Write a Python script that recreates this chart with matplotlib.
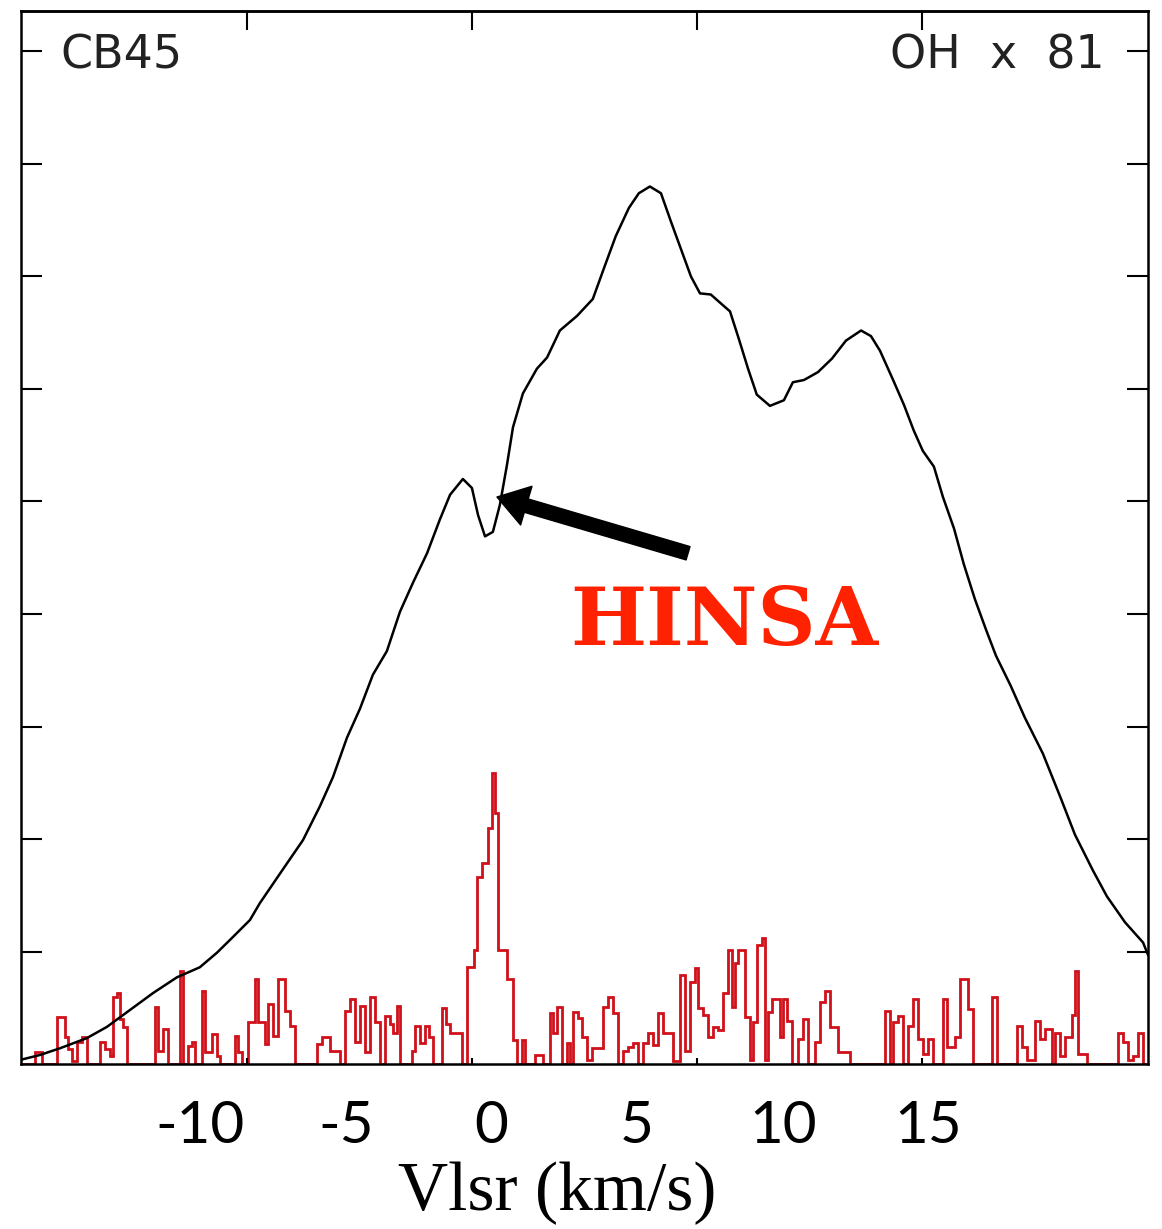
import numpy as np
import matplotlib
matplotlib.use('Agg')
import matplotlib.pyplot as plt

# HI emission profile (black), velocity in km/s, brightness in tick units
hi_v = [-16.12, -15.50, -14.81, -13.89, -13.20, -12.41, -11.62, -10.80, -10.01, -9.42,
        -8.87, -8.29, -7.95, -7.16, -6.47, -5.89, -5.44, -4.96, -4.51, -4.07,
        -3.59, -3.14, -2.69, -2.21, -1.77, -1.42, -0.98, -0.67, -0.46, -0.22,
        0.05, 0.29, 0.53, 0.74, 1.08, 1.56, 1.91, 2.35, 2.94, 3.48,
        3.90, 4.27, 4.72, 5.06, 5.44, 5.82, 6.16, 6.54, 6.85, 7.16,
        7.53, 7.88, 8.19, 8.50, 8.81, 9.11, 9.56, 10.04, 10.35, 10.73,
        11.21, 11.69, 12.17, 12.69, 13.03, 13.34, 13.79, 14.16, 14.50, 14.81,
        15.19, 15.50, 15.88, 16.22, 16.60, 16.98, 17.32, 17.83, 18.31, 18.93,
        19.55, 20.03, 20.65, 21.13, 21.75, 22.37, 22.54]
hi_t = [0.04, 0.08, 0.14, 0.23, 0.33, 0.48, 0.63, 0.77, 0.86, 0.99,
        1.13, 1.28, 1.43, 1.73, 1.99, 2.29, 2.55, 2.90, 3.16, 3.46,
        3.67, 4.02, 4.28, 4.54, 4.84, 5.06, 5.20, 5.12, 4.88, 4.69,
        4.73, 4.97, 5.32, 5.66, 5.96, 6.18, 6.28, 6.52, 6.65, 6.80,
        7.10, 7.36, 7.61, 7.74, 7.80, 7.74, 7.49, 7.22, 7.00, 6.85,
        6.84, 6.76, 6.69, 6.44, 6.18, 5.95, 5.85, 5.90, 6.06, 6.08,
        6.15, 6.27, 6.43, 6.52, 6.47, 6.34, 6.08, 5.86, 5.63, 5.45,
        5.31, 5.04, 4.76, 4.44, 4.13, 3.86, 3.63, 3.36, 3.08, 2.76,
        2.36, 2.04, 1.72, 1.49, 1.26, 1.08, 0.97]

# OH spectrum (red, scaled x 81): channel edges and values
oh_edges = [-16.15, -15.67, -15.43, -14.92, -14.64, -14.54, -14.40, -14.23, -14.06, -13.89,
            -13.44, -13.27, -13.10, -12.99, -12.86, -12.75, -12.65, -12.51, -11.55, -11.45,
            -11.28, -11.11, -10.69, -10.59, -10.42, -10.28, -10.18, -9.94, -9.84, -9.59,
            -9.42, -9.32, -8.81, -8.70, -8.57, -8.36, -8.12, -8.02, -7.78, -7.67,
            -7.50, -7.33, -7.09, -6.92, -6.75, -5.99, -5.82, -5.54, -5.20, -5.03,
            -4.86, -4.69, -4.51, -4.34, -4.17, -4.00, -3.83, -3.66, -3.48, -3.38,
            -3.24, -3.14, -2.73, -2.63, -2.45, -2.28, -2.15, -2.01, -1.70, -1.56,
            -1.42, -1.01, -0.84, -0.60, -0.50, -0.33, -0.12, 0.02, 0.12, 0.22,
            0.53, 0.74, 0.88, 1.05, 1.15, 1.49, 1.77, 2.01, 2.11, 2.25,
            2.42, 2.59, 2.69, 2.80, 2.97, 3.11, 3.28, 3.45, 3.83, 4.00,
            4.17, 4.34, 4.51, 4.69, 4.86, 5.03, 5.20, 5.37, 5.54, 5.72,
            5.89, 6.23, 6.47, 6.64, 6.81, 6.99, 7.09, 7.26, 7.43, 7.60,
            7.78, 7.95, 8.12, 8.26, 8.36, 8.46, 8.70, 8.87, 8.98, 9.11,
            9.29, 9.39, 9.49, 9.63, 9.90, 10.01, 10.14, 10.32, 10.52, 10.69,
            10.86, 11.11, 11.28, 11.45, 11.62, 11.90, 12.31, 13.51, 13.68, 13.78,
            13.95, 14.13, 14.30, 14.47, 14.64, 14.81, 14.98, 15.16, 15.50, 15.64,
            15.91, 16.08, 16.36, 16.53, 17.18, 17.35, 18.04, 18.21, 18.38, 18.66,
            18.83, 19.00, 19.24, 19.34, 19.52, 19.69, 19.93, 20.03, 20.13, 20.44,
            21.51, 21.68, 21.85, 22.02, 22.19, 22.37, 22.54]
oh_t = [0, 0.11, 0, 0.42, 0.24, 0.13, 0.03, 0.20, 0.24, 0,
        0.20, 0.13, 0.07, 0.60, 0.63, 0.40, 0.33, 0, 0.51, 0.12,
        0.31, 0, 0.83, 0, 0.16, 0.20, 0, 0.65, 0.11, 0.27,
        0.07, 0, 0.25, 0.11, 0, 0.37, 0.76, 0.37, 0.18, 0.53,
        0.25, 0.76, 0.47, 0.34, 0, 0.18, 0.24, 0.12, 0, 0.47,
        0.58, 0.20, 0.52, 0.11, 0.60, 0.37, 0, 0.43, 0.36, 0.28,
        0.52, 0, 0.12, 0.34, 0.19, 0.34, 0.24, 0, 0.50, 0.36,
        0.28, 0, 0.86, 1.01, 1.66, 1.79, 2.10, 2.59, 2.23, 1.01,
        0.76, 0.21, 0, 0.21, 0, 0.08, 0, 0.45, 0.28, 0.51,
        0, 0.19, 0, 0.46, 0.41, 0.24, 0.04, 0.14, 0.51, 0.60,
        0.45, 0, 0.12, 0.15, 0.19, 0, 0.19, 0.28, 0.17, 0.45,
        0.28, 0.03, 0.79, 0.12, 0.73, 0.85, 0.50, 0.44, 0.24, 0.33,
        0.30, 0.63, 1.01, 0.51, 0.90, 1.01, 0.42, 0.04, 0.37, 1.06,
        1.12, 0.04, 0.46, 0.58, 0.24, 0.58, 0.38, 0, 0.22, 0.40,
        0, 0.20, 0.55, 0.65, 0.33, 0.11, 0, 0.47, 0, 0.37,
        0.43, 0, 0.34, 0.58, 0.22, 0.09, 0.22, 0, 0.58, 0.15,
        0.24, 0.76, 0.49, 0, 0.60, 0, 0.34, 0.15, 0.04, 0.38,
        0.22, 0.31, 0, 0.28, 0.07, 0.24, 0.44, 0.83, 0.09, 0,
        0.28, 0.20, 0.04, 0.07, 0.28, 0]

vel_ticks = [-10, -5, 0, 5, 10, 15]
frame_ticks = [-8.39, -0.67, 7.05, 14.78]

W, H = 1162, 1229
fig = plt.figure(figsize=(W / 100, H / 100), dpi=100)
ax = fig.add_axes([21 / W, 1 - 1064 / H, 1127 / W, 1053 / H])

ax.stairs(oh_t, oh_edges, baseline=None, color='#d0101a', lw=2.0)
ax.plot(hi_v, hi_t, color='black', lw=1.8)

ax.set_xlim(-16.15, 22.54)
ax.set_ylim(0, 9.36)

for s in ax.spines.values():
    s.set_linewidth(1.8)

ax.set_yticks(range(1, 10))
ax.tick_params(axis='y', which='major', direction='in', length=15, width=1.5,
               left=True, right=True, labelleft=False)
ax.set_xticks(vel_ticks)
ax.set_xticklabels([str(v) for v in vel_ticks], family='Lato', fontsize=42)
ax.tick_params(axis='x', which='major', length=0, pad=26)
ax.set_xticks(frame_ticks, minor=True)
ax.tick_params(axis='x', which='minor', direction='in', length=4, width=1.5)

top = ax.secondary_xaxis('top')
top.set_xticks(frame_ticks)
top.tick_params(direction='in', length=14, width=1.5, labeltop=False)
top.spines['top'].set_linewidth(1.8)

ax.text(39 / 1127, 1 - 45 / 1053, 'CB45', transform=ax.transAxes,
        fontsize=33, color='#222222', va='center', ha='left')
ax.text(1 - 43 / 1127, 1 - 45 / 1053, 'OH  x  81', transform=ax.transAxes,
        fontsize=33, color='#222222', va='center', ha='right')

ax.annotate('', xy=(0.19, 5.04), xytext=(6.75, 4.54),
            arrowprops=dict(arrowstyle='simple,head_length=1.1,head_width=1.45,tail_width=0.5',
                            color='black', mutation_scale=20, shrinkA=0, shrinkB=0))
ax.text(8.0, 3.72, 'HINSA', family='DejaVu Serif', fontweight='bold',
        fontsize=58, color='#ff2200', ha='center', va='baseline')

fig.text(557 / W, 1 - 1210 / H, 'Vlsr (km/s)', family='Liberation Serif',
         fontsize=50, ha='center', va='baseline')

fig.savefig('out.png', dpi=100)
